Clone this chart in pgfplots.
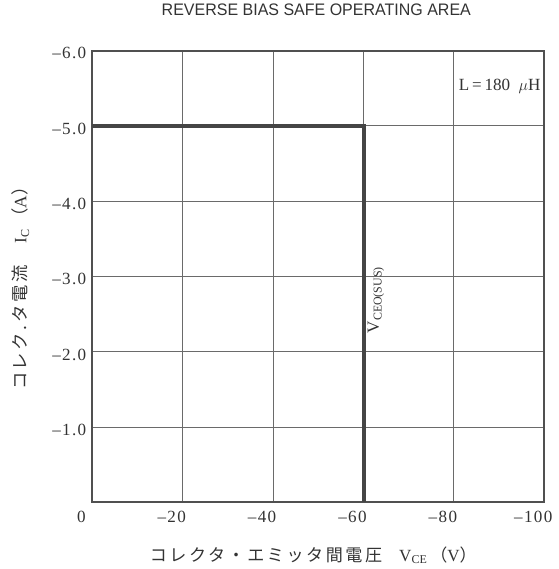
\documentclass[border=0pt]{standalone}
\usepackage{fontspec}
\setmainfont{Liberation Serif}
\setsansfont{Liberation Sans}
\newfontfamily\cjk[LetterSpace=15]{Noto Sans CJK JP}
\newfontfamily\tickfont[LetterSpace=8]{Liberation Serif}
\usepackage{pgfplots}
\pgfplotsset{compat=1.18}
\definecolor{framegray}{HTML}{505050}
\definecolor{gridgray}{HTML}{6A6A6A}
\definecolor{linegray}{HTML}{454545}
\definecolor{textgray}{HTML}{333333}
\begin{document}
\begin{tikzpicture}
\useasboundingbox (-69.2pt,-50pt) rectangle (349.3pt,376.7pt);
\begin{axis}[
  at={(0,0)}, anchor=south west,
  scale only axis, width=339pt, height=338.7pt,
  x dir=reverse, y dir=reverse,
  xmin=-100, xmax=0, ymin=-6, ymax=0,
  xtick={0,-20,-40,-60,-80,-100},
  xticklabels={0,–20,–40,–60,–80,–100},
  ytick={-6,-5,-4,-3,-2,-1},
  yticklabels={–6.0,–5.0,–4.0,–3.0,–2.0,–1.0},
  major tick length=0pt,
  grid=major,
  grid style={line width=0.8pt, color=gridgray},
  axis line style={line width=1.5pt, color=framegray},
  tick label style={font=\tickfont\fontsize{12.8}{14}\selectfont, text=textgray},
  xticklabel style={xshift=-8.25pt, yshift=-3pt},
  yticklabel style={xshift=-1pt, yshift=-2pt},
  title={REVERSE BIAS SAFE OPERATING AREA},
  title style={at={(axis description cs:0.4956,1.0735)}, anchor=center,
    font=\sffamily\fontsize{12.5}{15}\selectfont, text=textgray, xscale=0.96},
  xlabel={{\cjk コレクタ・エミッタ間電圧}\quad V\textsubscript{CE}\,{\cjk （}V{\cjk ）}},
  xlabel style={at={(axis description cs:0.489,-0.1167)}, anchor=center,
    font=\fontsize{12.8}{14}\selectfont, text=textgray},
  ylabel={{\cjk コレク.タ電流}\hspace{1.3em}I\textsubscript{C}\,{\cjk （}A{\cjk ）}},
  ylabel style={at={(axis description cs:-0.159,0.483)}, anchor=center,
    font=\fontsize{13}{15}\selectfont, text=textgray},
]
\addplot[color=linegray, line width=3pt, line join=miter] coordinates {
  (0,-5) (-60,-5) (-60,0)
};
\node[anchor=east, fill=white, inner sep=1pt, text=textgray,
  font=\fontsize{12.8}{14}\selectfont] at (axis cs:-99.5,-5.52) {L{\,}={\,}180\ \ $\mu$H};
\node[anchor=north, rotate=90, text=textgray, inner sep=3pt,
  font=\fontsize{12.8}{14}\selectfont] at (axis cs:-60,-2.69) {V\textsubscript{CEO(SUS)}};
\end{axis}
\end{tikzpicture}
\end{document}
